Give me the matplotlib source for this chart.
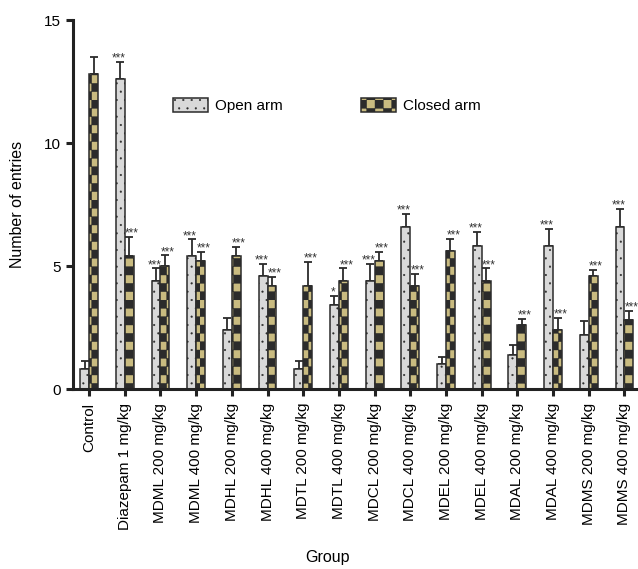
import numpy as np
import matplotlib
matplotlib.use("Agg")
import matplotlib.pyplot as plt
from matplotlib import hatch as mhatch
from matplotlib.path import Path

# checkerboard hatch, takes over the "O" hatch character
class CheckerHatch(mhatch.HatchPatternBase):
    def __init__(self, hatch, density):
        self.n = 12 if "O" in hatch else 0
        self.num_vertices = (self.n * self.n // 2) * 5

    def set_vertices_and_codes(self, vertices, codes):
        s = 1.0 / self.n
        k = 0
        for i in range(self.n):
            for j in range(self.n):
                if (i + j) % 2:
                    continue
                x0, y0 = i * s, j * s
                vertices[k:k + 5] = [(x0, y0), (x0 + s, y0), (x0 + s, y0 + s),
                                     (x0, y0 + s), (x0, y0)]
                codes[k:k + 5] = [Path.MOVETO, Path.LINETO, Path.LINETO,
                                  Path.LINETO, Path.CLOSEPOLY]
                k += 5

mhatch._hatch_types = [CheckerHatch if t is mhatch.LargeCircles else t
                       for t in mhatch._hatch_types]

plt.rcParams['font.family'] = ['Liberation Sans', 'DejaVu Sans']
plt.rcParams['hatch.linewidth'] = 0.3

groups = ["Control", "Diazepam 1 mg/kg", "MDML 200 mg/kg", "MDML 400 mg/kg",
          "MDHL 200 mg/kg", "MDHL 400 mg/kg", "MDTL 200 mg/kg", "MDTL 400 mg/kg",
          "MDCL 200 mg/kg", "MDCL 400 mg/kg", "MDEL 200 mg/kg", "MDEL 400 mg/kg",
          "MDAL 200 mg/kg", "MDAL 400 mg/kg", "MDMS 200 mg/kg", "MDMS 400 mg/kg"]
open_arm = [0.8, 12.6, 4.4, 5.4, 2.4, 4.6, 0.8, 3.4, 4.4, 6.6, 1.0, 5.8, 1.4, 5.8, 2.2, 6.6]
open_err = [0.35, 0.7, 0.5, 0.68, 0.5, 0.5, 0.35, 0.38, 0.67, 0.5, 0.3, 0.57, 0.4, 0.72, 0.58, 0.73]
closed_arm = [12.8, 5.4, 5.0, 5.2, 5.4, 4.2, 4.2, 4.4, 5.2, 4.2, 5.6, 4.4, 2.6, 2.4, 4.6, 2.8]
closed_err = [0.7, 0.8, 0.43, 0.38, 0.38, 0.36, 0.97, 0.5, 0.38, 0.47, 0.5, 0.5, 0.23, 0.5, 0.24, 0.37]
open_sig = ["", "***", "***", "***", "", "***", "", "*", "***", "***", "", "***", "", "***", "", "***"]
closed_sig = ["", "***", "***", "***", "***", "***", "***", "***", "***", "***", "***", "***",
              "***", "***", "***", "***"]

edge = "#2b2b2b"
x = np.arange(len(groups))
w = 0.25

fig = plt.figure(figsize=(6.38, 5.69), dpi=100)
ax = fig.add_axes([0.1144, 0.3163, 0.8856, 0.6485])

b1 = ax.bar(x - w / 2, open_arm, w, color="#d9d9d9", edgecolor=edge, linewidth=1.1,
            hatch="..", label="Open arm", zorder=2)
b2 = ax.bar(x + w / 2, closed_arm, w, color="#c9bb80", edgecolor=edge, linewidth=1.1,
            hatch="O", label="Closed arm", zorder=2)

ax.errorbar(x - w / 2, open_arm, yerr=[np.zeros(len(x)), open_err], fmt="none",
            ecolor=edge, elinewidth=1.3, capsize=3, capthick=1.3, zorder=1)
ax.errorbar(x + w / 2, closed_arm, yerr=[np.zeros(len(x)), closed_err], fmt="none",
            ecolor=edge, elinewidth=1.3, capsize=3, capthick=1.3, zorder=1)

for i in range(len(x)):
    if open_sig[i]:
        ax.text(x[i] - w / 2 - 0.05, open_arm[i] + open_err[i] + 0.02, open_sig[i],
                ha="center", va="baseline", fontsize=8.5, color="#333333")
    if closed_sig[i]:
        ax.text(x[i] + w / 2 + 0.08, closed_arm[i] + closed_err[i] + 0.02, closed_sig[i],
                ha="center", va="baseline", fontsize=8.5, color="#333333")

ax.set_xlim(-0.45, 15.38)
ax.set_ylim(0, 15)
ax.set_yticks([0, 5, 10, 15])
ax.set_xticks(x)
ax.set_xticklabels(groups, rotation=90, fontsize=11)
ax.tick_params(axis="y", labelsize=11, width=2.2, length=5, color="#222222")
ax.tick_params(axis="x", width=2.2, length=5, color="#222222", pad=5)
for s in ["top", "right"]:
    ax.spines[s].set_visible(False)
for s in ["left", "bottom"]:
    ax.spines[s].set_linewidth(2.2)
    ax.spines[s].set_color("#222222")

ax.set_ylabel("Number of entries", fontsize=11.5)
ax.yaxis.set_label_coords(-0.085, 0.5)
ax.set_xlabel("Group", fontsize=11.5)
ax.xaxis.set_label_coords(0.45, -0.435)

fig.legend(handles=[b1, b2], loc="upper left", bbox_to_anchor=(173 / 638, 1 - 98 / 569),
           ncol=2, frameon=False, fontsize=11, borderpad=0, borderaxespad=0,
           handlelength=2.3, handleheight=1.0, handletextpad=0.45, columnspacing=5.1)

fig.savefig("out.png", dpi=100)
